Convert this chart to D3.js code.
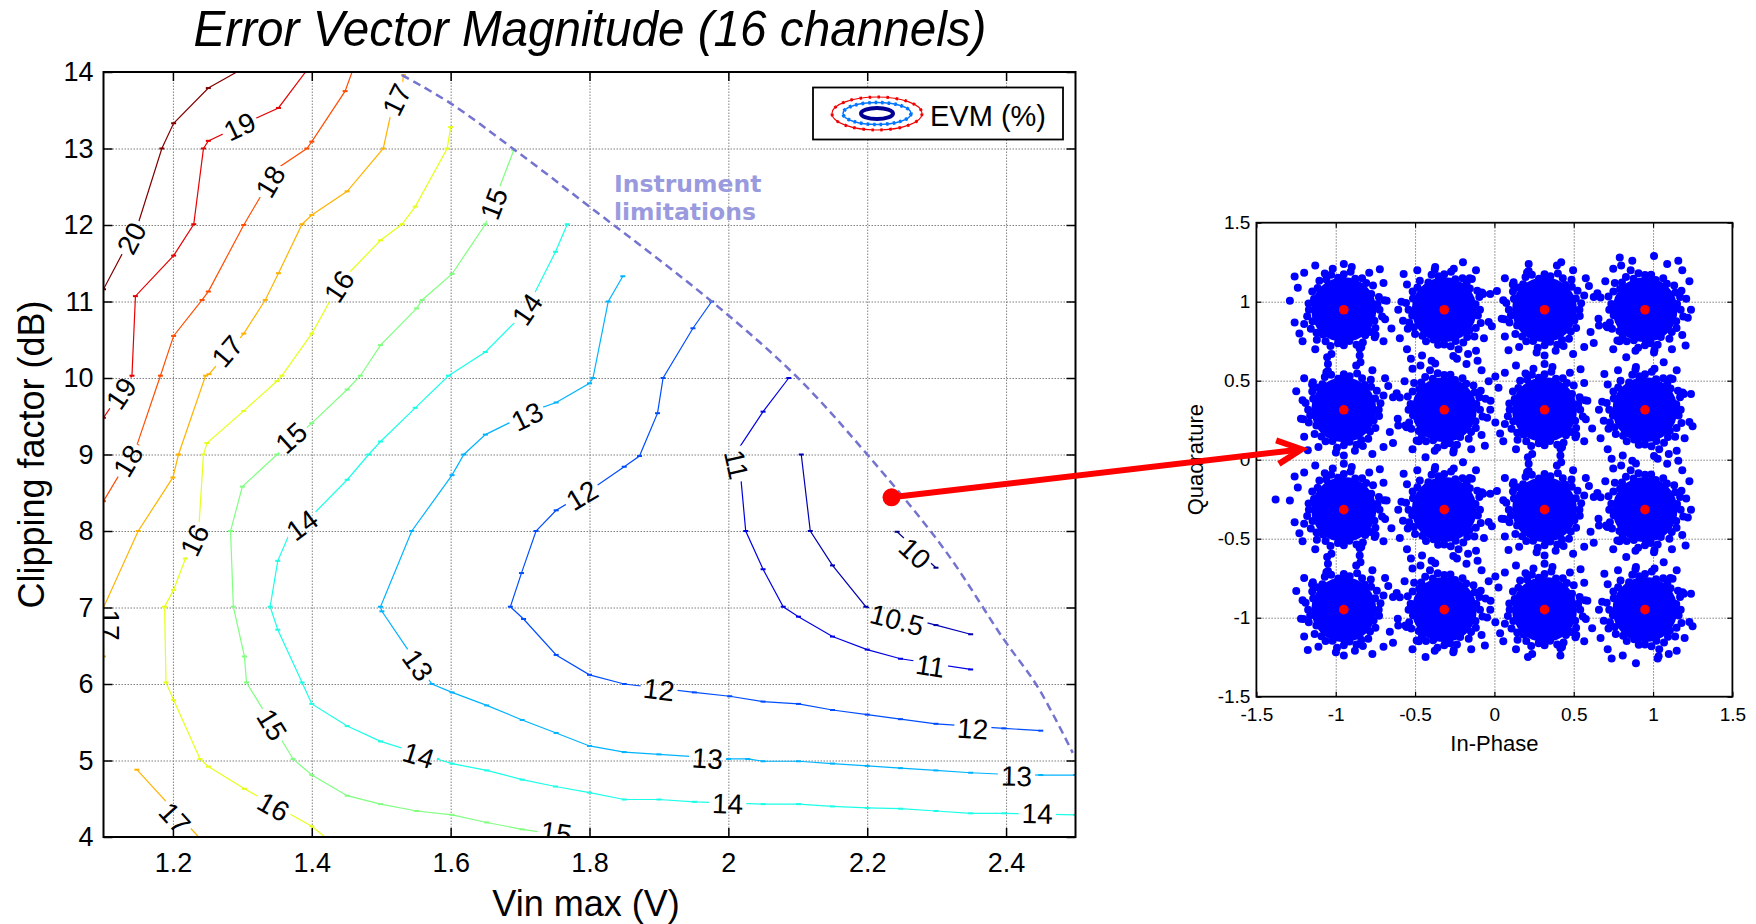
<!DOCTYPE html>
<html><head><meta charset="utf-8">
<script src="https://cdn.jsdelivr.net/npm/d3@7"></script>
<style>
body{margin:0;background:#fff}
svg{display:block}
</style>
</head><body>
<svg id="c" width="1756" height="924" font-family="Liberation Sans, Arial, Helvetica, sans-serif"></svg>
<script>
// ---------------- DATA ----------------
const titleText = "Error Vector Magnitude (16 channels)";
const xTicks = [1.2, 1.4, 1.6, 1.8, 2.0, 2.2, 2.4];
const xTickLabels = ["1.2", "1.4", "1.6", "1.8", "2", "2.2", "2.4"];
const yTicks = [4, 5, 6, 7, 8, 9, 10, 11, 12, 13, 14];
const yTickLabels = ["4", "5", "6", "7", "8", "9", "10", "11", "12", "13", "14"];

// contour polylines [Vin max (V), clipping factor (dB)]
const c20 = [[1.1,11.16],[1.15,12.02],[1.184,13.0],[1.201,13.33],[1.251,13.79],[1.292,14.0]];
const c19 = [[1.1,9.48],[1.141,10.03],[1.146,11.07],[1.201,11.6],[1.23,12.01],[1.244,13.0],[1.251,13.1],[1.316,13.38],[1.352,13.53],[1.391,14.0]];
const c18 = [[1.1,8.39],[1.148,9.12],[1.182,10.03],[1.201,10.55],[1.242,11.02],[1.251,11.13],[1.302,12.0],[1.35,12.74],[1.393,13.0],[1.4,13.09],[1.448,13.75],[1.458,14.0]];
const c17a = [[1.1,6.36],[1.1,7.0],[1.15,8.0],[1.2,8.7],[1.208,9.0],[1.247,10.03],[1.252,10.05],[1.302,10.58],[1.333,11.02],[1.352,11.37],[1.386,12.01],[1.4,12.13],[1.451,12.44],[1.503,13.0],[1.515,13.5],[1.53,13.78],[1.532,13.96]];
const c17b = [[1.148,4.88],[1.237,4.0]];
const c16 = [[1.6,13.28],[1.595,13.0],[1.549,12.24],[1.53,12.01],[1.499,11.8],[1.451,11.35],[1.427,11.02],[1.4,10.58],[1.357,10.03],[1.35,9.96],[1.302,9.57],[1.249,9.15],[1.244,9.0],[1.237,8.0],[1.218,7.64],[1.201,7.23],[1.188,7.01],[1.19,6.02],[1.201,5.79],[1.239,5.02],[1.251,4.92],[1.303,4.63],[1.4,4.14],[1.419,4.0]];
const c15 = [[1.691,12.98],[1.65,12.01],[1.602,11.36],[1.559,11.02],[1.551,10.91],[1.499,10.43],[1.47,10.03],[1.451,9.85],[1.4,9.41],[1.35,9.0],[1.3,8.58],[1.283,8.0],[1.287,7.01],[1.303,6.36],[1.306,6.02],[1.373,5.02],[1.4,4.81],[1.451,4.54],[1.499,4.43],[1.551,4.34],[1.602,4.29],[1.652,4.19],[1.703,4.1],[1.779,4.0]];
const c14 = [[1.768,12.01],[1.751,11.65],[1.717,11.04],[1.696,10.76],[1.65,10.34],[1.597,10.03],[1.549,9.61],[1.499,9.17],[1.482,9.0],[1.451,8.67],[1.4,8.2],[1.369,7.99],[1.351,7.61],[1.34,7.01],[1.351,6.71],[1.386,6.02],[1.4,5.74],[1.451,5.45],[1.499,5.25],[1.58,5.02],[1.602,4.96],[1.652,4.87],[1.703,4.75],[1.751,4.66],[1.8,4.58],[1.85,4.49],[1.9,4.49],[1.951,4.46],[2.05,4.43],[2.101,4.43],[2.15,4.4],[2.2,4.38],[2.248,4.37],[2.299,4.34],[2.349,4.31],[2.397,4.31],[2.5,4.29]];
const c13 = [[1.848,11.33],[1.827,11.0],[1.805,10.0],[1.8,9.93],[1.752,9.68],[1.724,9.59],[1.65,9.26],[1.619,9.0],[1.602,8.73],[1.544,8.0],[1.499,7.01],[1.501,6.95],[1.542,6.4],[1.573,6.0],[1.602,5.89],[1.652,5.72],[1.703,5.53],[1.752,5.36],[1.8,5.19],[1.85,5.11],[1.9,5.08],[2.0,5.02],[2.028,5.02],[2.05,4.99],[2.101,4.99],[2.15,4.96],[2.2,4.93],[2.248,4.9],[2.299,4.87],[2.349,4.84],[2.397,4.82],[2.45,4.81],[2.5,4.81]];
const c12 = [[1.976,11.0],[1.949,10.65],[1.906,10.0],[1.898,9.54],[1.872,8.98],[1.85,8.84],[1.805,8.56],[1.752,8.27],[1.723,8.0],[1.702,7.45],[1.686,7.01],[1.705,6.85],[1.752,6.38],[1.8,6.12],[1.85,6.0],[1.951,5.89],[2.002,5.84],[2.05,5.77],[2.101,5.74],[2.15,5.66],[2.2,5.6],[2.248,5.54],[2.299,5.48],[2.397,5.42],[2.45,5.39]];
const c11 = [[2.087,10.0],[2.05,9.56],[2.01,9.01],[2.018,8.69],[2.025,8.0],[2.05,7.5],[2.079,7.01],[2.101,6.88],[2.15,6.62],[2.2,6.45],[2.248,6.33],[2.349,6.19]];
const c105 = [[2.105,9.0],[2.118,8.0],[2.15,7.55],[2.198,7.01],[2.299,6.77],[2.349,6.65]];
const c10 = [[2.243,7.99],[2.299,7.52]];
const contourLevels = [20, 19, 18, 17, 17, 16, 15, 14, 13, 12, 11, 10.5, 10];
const contourPaths = [c20, c19, c18, c17a, c17b, c16, c15, c14, c13, c12, c11, c105, c10];

// inline contour labels [level, x, y]
const contourLabels = [
  [20,1.14,11.83],[19,1.296,13.29],[19,1.125,9.8],[18,1.135,8.92],[18,1.34,12.57],
  [17,1.11,6.77],[17,1.278,10.35],[17,1.522,13.64],[17,1.203,4.25],
  [16,1.439,11.2],[16,1.231,7.88],[16,1.345,4.4],
  [15,1.662,12.28],[15,1.37,9.22],[15,1.343,5.47],[15,1.752,4.06],
  [14,1.71,10.9],[14,1.386,8.08],[14,1.554,5.07],[14,1.999,4.44],[14,2.445,4.31],
  [13,1.71,9.5],[13,1.553,6.25],[13,1.97,5.03],[13,2.415,4.8],
  [12,1.789,8.47],[12,1.9,5.93],[12,2.352,5.42],
  [11,2.012,8.87],[11,2.291,6.24],[10.5,2.243,6.84],[10,2.269,7.71]
];

// instrument limitation boundary
const limitCurve = [[1.53,13.96],[1.6,13.59],[1.688,13.01],[1.8,12.24],[1.976,11.0],[2.098,10.02],[2.2,9.0],[2.311,7.76],[2.397,6.58],[2.445,5.97],[2.496,5.1]];
const limitText = ["Instrument", "limitations"];
const operatingPoint = [2.235, 8.44];

// constellation (16-QAM)
const cTicks = [-1.5, -1, -0.5, 0, 0.5, 1, 1.5];
const cTickLabels = ["-1.5", "-1", "-0.5", "0", "0.5", "1", "1.5"];
const iqLevels = [-0.949, -0.316, 0.316, 0.949];
const clusterCore = 0.205;
const clusterEdge = [[0.22,0],[0.231,0.041],[0.197,0.072],[0.208,0.12],[0.172,0.145],[0.132,0.157],[0.115,0.199],[0.084,0.23],[0.037,0.212],[0,0.225],[-0.035,0.197],[-0.08,0.221],[-0.12,0.208],[-0.135,0.161],[-0.169,0.141],[-0.199,0.115],[-0.193,0.07],[-0.241,0.043],[-0.225,0],[-0.212,-0.037],[-0.221,-0.08],[-0.173,-0.1],[-0.184,-0.154],[-0.141,-0.169],[-0.115,-0.199],[-0.072,-0.197],[-0.043,-0.241],[0,-0.225],[0.036,-0.202],[0.08,-0.221],[0.11,-0.191],[0.154,-0.184],[0.165,-0.138],[0.199,-0.115],[0.188,-0.068],[0.222,-0.039],[0.25,0.09],[-0.1,0.245],[-0.255,-0.06],[0.12,-0.23],[0.17,0.19],[-0.2,0.16]];
const clusterOutliers = [[-0.30,0.118],[-0.10,0.29],[0.078,0.28],[0.105,0.30],[0.18,0.25],[0.28,0.15],[0.31,0.08],[0.34,-0.057],[0.29,-0.14],[0.31,-0.21],[0.25,-0.235],[0.18,-0.28],[-0.27,-0.057],[-0.25,-0.17],[-0.227,-0.256],[-0.16,-0.235],[-0.26,0.06],[-0.195,0.174],[-0.11,0.237],[0.0,-0.29],[0.07,-0.26],[-0.05,-0.27],[0.26,0.2],[-0.25,0.2]];
const strayPoints = [[-1.379,-0.252],[0.79,1.28],[1.035,-1.244]];
const arrowTarget = [-1.215, 0.066];

// ---------------- DRAWING ----------------
const W = 1756, H = 924;
const svg = d3.select("#c");
const defs = svg.append("defs");

const mx = d3.scaleLinear().domain([1.1, 2.5]).range([103.5, 1075.5]);
const my = d3.scaleLinear().domain([4, 14]).range([837, 72]);
const jet = d3.scaleLinear().domain([10, 11.25, 13.75, 16.25, 18.75, 20])
  .range(["#000080", "#0000ff", "#00ffff", "#ffff00", "#ff0000", "#800000"]);

const PL = mx.range()[0], PR = mx.range()[1], PT = my.range()[1], PB = my.range()[0];

defs.append("clipPath").attr("id", "plotClip").append("rect")
  .attr("x", PL).attr("y", PT).attr("width", PR - PL).attr("height", PB - PT);

// title
svg.append("text").attr("x", 590).attr("y", 46).attr("text-anchor", "middle")
  .attr("font-size", 50).attr("font-style", "italic")
  .attr("textLength", 793).attr("lengthAdjust", "spacingAndGlyphs").text(titleText);

// grid
const gridStyle = g => g.call(s => s.select(".domain").remove())
  .call(s => s.selectAll("line").attr("stroke", "#808080").attr("stroke-width", 1).attr("stroke-dasharray", "1.5,1.5"))
  .call(s => s.selectAll("text").remove());
svg.append("g").attr("transform", `translate(0,${PB})`)
  .call(d3.axisBottom(mx).tickValues(xTicks).tickSize(-(PB - PT))).call(gridStyle);
svg.append("g").attr("transform", `translate(${PL},0)`)
  .call(d3.axisLeft(my).tickValues(yTicks.slice(1, -1)).tickSize(-(PR - PL))).call(gridStyle);

// contour lines (with gaps under labels)
const mask = defs.append("mask").attr("id", "labelMask").attr("maskUnits", "userSpaceOnUse")
  .attr("x", 0).attr("y", 0).attr("width", W).attr("height", H);
mask.append("rect").attr("width", W).attr("height", H).attr("fill", "#fff");

const lineGen = d3.line().x(d => mx(d[0])).y(d => my(d[1]));
const cg = svg.append("g").attr("clip-path", "url(#plotClip)");
const linesG = cg.append("g").attr("mask", "url(#labelMask)");
contourPaths.forEach((pts, i) => {
  const col = jet(contourLevels[i]);
  linesG.append("path").attr("d", lineGen(pts)).attr("fill", "none")
    .attr("stroke", col).attr("stroke-width", 1.2);
  linesG.selectAll(null).data(pts).enter().append("rect")
    .attr("x", d => mx(d[0]) - 2.5).attr("y", d => my(d[1]) - 1)
    .attr("width", 5).attr("height", 2).attr("fill", col);
});

function labelAngle(level, lx, ly) {
  const px = mx(lx), py = my(ly);
  let best = Infinity, ang = 0;
  contourPaths.forEach((pts, i) => {
    if (contourLevels[i] !== level) return;
    for (let k = 0; k < pts.length - 1; k++) {
      const x1 = mx(pts[k][0]), y1 = my(pts[k][1]), x2 = mx(pts[k+1][0]), y2 = my(pts[k+1][1]);
      const dx = x2 - x1, dy = y2 - y1, L2 = dx*dx + dy*dy;
      let t = L2 ? ((px - x1)*dx + (py - y1)*dy) / L2 : 0;
      t = Math.max(0, Math.min(1, t));
      const ex = x1 + t*dx - px, ey = y1 + t*dy - py, dist = ex*ex + ey*ey;
      if (dist < best) { best = dist; ang = Math.atan2(dy, dx) * 180 / Math.PI; }
    }
  });
  if (ang > 90) ang -= 180;
  if (ang <= -90) ang += 180;
  return ang;
}

const labG = cg.append("g");
contourLabels.forEach(([lev, lx, ly]) => {
  const a = labelAngle(lev, lx, ly);
  const px = mx(lx), py = my(ly);
  const t = labG.append("text").attr("transform", `translate(${px},${py}) rotate(${a})`)
    .attr("text-anchor", "middle").attr("dy", "0.36em").attr("font-size", 28)
    .attr("fill", "#000").text(String(lev));
  const w = t.node().getComputedTextLength();
  mask.append("rect").attr("transform", `translate(${px},${py}) rotate(${a})`)
    .attr("x", -w/2 - 3).attr("y", -11).attr("width", w + 6).attr("height", 22).attr("fill", "#000");
});

// instrument limitation
svg.append("path").attr("d", d3.line().curve(d3.curveCatmullRom).x(d => mx(d[0])).y(d => my(d[1]))(limitCurve))
  .attr("fill", "none").attr("stroke", "#7474d0").attr("stroke-width", 2.5).attr("stroke-dasharray", "8,5");
limitText.forEach((s, i) => {
  svg.append("text").attr("x", 614).attr("y", 192 + i * 28)
    .style("font-family", "'DejaVu Sans', Verdana, sans-serif")
    .attr("font-weight", "bold").attr("font-size", 23.5).attr("fill", "#9a9ade").text(s);
});

// box + ticks of main axes
const tickStyle = g => g.call(s => s.select(".domain").remove())
  .call(s => s.selectAll("line").attr("stroke", "#000").attr("stroke-width", 1.5));
svg.append("g").attr("transform", `translate(0,${PB})`)
  .call(d3.axisBottom(mx).tickValues(xTicks).tickFormat((d, i) => xTickLabels[i]).tickSizeInner(-9).tickSizeOuter(0).tickPadding(16))
  .call(tickStyle).call(g => g.selectAll("text").attr("font-size", 27).attr("fill", "#000"));
svg.append("g").attr("transform", `translate(${PL},0)`)
  .call(d3.axisLeft(my).tickValues(yTicks).tickFormat((d, i) => yTickLabels[i]).tickSizeInner(-9).tickSizeOuter(0).tickPadding(10))
  .call(tickStyle).call(g => g.selectAll("text").attr("font-size", 27).attr("fill", "#000"));
svg.append("g").attr("transform", `translate(0,${PT})`)
  .call(d3.axisTop(mx).tickValues(xTicks).tickFormat("").tickSizeInner(-9).tickSizeOuter(0)).call(tickStyle);
svg.append("g").attr("transform", `translate(${PR},0)`)
  .call(d3.axisRight(my).tickValues(yTicks).tickFormat("").tickSizeInner(-9).tickSizeOuter(0)).call(tickStyle);
svg.selectAll("g").attr("font-family", null);
svg.append("rect").attr("x", PL).attr("y", PT).attr("width", PR - PL).attr("height", PB - PT)
  .attr("fill", "none").attr("stroke", "#000").attr("stroke-width", 2);

svg.append("text").attr("x", 586).attr("y", 916).attr("text-anchor", "middle").attr("font-size", 36).text("Vin max (V)");
svg.append("text").attr("transform", `translate(44,${(PT + PB) / 2}) rotate(-90)`).attr("text-anchor", "middle")
  .attr("font-size", 36).text("Clipping factor (dB)");

// legend
const lg = svg.append("g");
lg.append("rect").attr("x", 813).attr("y", 87.5).attr("width", 250).attr("height", 52)
  .attr("fill", "#fff").attr("stroke", "#000").attr("stroke-width", 1.8);
const icx = 877, icy = 113.5;
lg.append("ellipse").attr("cx", icx).attr("cy", icy).attr("rx", 45).attr("ry", 16.5)
  .attr("fill", "none").attr("stroke", jet(18.9)).attr("stroke-width", 1.2);
lg.append("ellipse").attr("cx", icx).attr("cy", icy).attr("rx", 45).attr("ry", 16.5)
  .attr("fill", "none").attr("stroke", jet(18.9)).attr("stroke-width", 3).attr("stroke-dasharray", "2.5,6.5");
lg.append("ellipse").attr("cx", icx).attr("cy", icy).attr("rx", 34).attr("ry", 11)
  .attr("fill", "none").attr("stroke", jet(12.4)).attr("stroke-width", 1.5);
lg.append("ellipse").attr("cx", icx).attr("cy", icy).attr("rx", 34).attr("ry", 11)
  .attr("fill", "none").attr("stroke", jet(12.4)).attr("stroke-width", 3.5).attr("stroke-dasharray", "2.5,4");
lg.append("ellipse").attr("cx", icx).attr("cy", icy).attr("rx", 16).attr("ry", 5.5)
  .attr("fill", "none").attr("stroke", jet(10.2)).attr("stroke-width", 4);
lg.append("text").attr("x", 930).attr("y", 126).attr("font-size", 29).text("EVM (%)");

// ---------------- constellation ----------------
const cx = d3.scaleLinear().domain([-1.5, 1.5]).range([1256.4, 1732.4]);
const cy = d3.scaleLinear().domain([-1.5, 1.5]).range([696.7, 222.7]);
const CL = cx.range()[0], CR = cx.range()[1], CT = cy.range()[1], CB = cy.range()[0];

svg.append("g").attr("transform", `translate(0,${CB})`)
  .call(d3.axisBottom(cx).tickValues(cTicks.slice(1, -1)).tickSize(-(CB - CT))).call(gridStyle);
svg.append("g").attr("transform", `translate(${CL},0)`)
  .call(d3.axisLeft(cy).tickValues(cTicks.slice(1, -1)).tickSize(-(CR - CL))).call(gridStyle);

const sg = svg.append("g");
const unitPx = cx(1) - cx(0);
iqLevels.forEach((I, a) => iqLevels.forEach((Q, b) => {
  const k = (a + 2 * b) % 4;
  const rot = ([dx, dy]) => k === 0 ? [dx, dy] : k === 1 ? [-dy, dx] : k === 2 ? [-dx, -dy] : [dy, -dx];
  sg.append("circle").attr("cx", cx(I)).attr("cy", cy(Q)).attr("r", clusterCore * unitPx).attr("fill", "#0000ff");
  clusterEdge.concat(clusterOutliers).forEach(o => {
    const [dx, dy] = rot(o);
    sg.append("circle").attr("cx", cx(I + dx)).attr("cy", cy(Q + dy)).attr("r", 4).attr("fill", "#0000ff");
  });
}));
sg.selectAll(null).data(strayPoints).enter().append("circle")
  .attr("cx", d => cx(d[0])).attr("cy", d => cy(d[1])).attr("r", 4).attr("fill", "#0000ff");
iqLevels.forEach(I => iqLevels.forEach(Q => {
  sg.append("circle").attr("cx", cx(I)).attr("cy", cy(Q)).attr("r", 4.8).attr("fill", "#ff0000");
}));

const ctick = g => g.call(s => s.select(".domain").remove())
  .call(s => s.selectAll("line").attr("stroke", "#000").attr("stroke-width", 1.2));
svg.append("g").attr("transform", `translate(0,${CB})`)
  .call(d3.axisBottom(cx).tickValues(cTicks).tickFormat((d, i) => cTickLabels[i]).tickSizeInner(-5).tickSizeOuter(0).tickPadding(11))
  .call(ctick).call(g => g.selectAll("text").attr("font-size", 19).attr("fill", "#000"));
svg.append("g").attr("transform", `translate(${CL},0)`)
  .call(d3.axisLeft(cy).tickValues(cTicks).tickFormat((d, i) => cTickLabels[i]).tickSizeInner(-5).tickSizeOuter(0).tickPadding(6))
  .call(ctick).call(g => g.selectAll("text").attr("font-size", 19).attr("fill", "#000"));
svg.append("g").attr("transform", `translate(0,${CT})`)
  .call(d3.axisTop(cx).tickValues(cTicks).tickFormat("").tickSizeInner(-5).tickSizeOuter(0)).call(ctick);
svg.append("g").attr("transform", `translate(${CR},0)`)
  .call(d3.axisRight(cy).tickValues(cTicks).tickFormat("").tickSizeInner(-5).tickSizeOuter(0)).call(ctick);
svg.selectAll("g").attr("font-family", null);
svg.append("rect").attr("x", CL).attr("y", CT).attr("width", CR - CL).attr("height", CB - CT)
  .attr("fill", "none").attr("stroke", "#000").attr("stroke-width", 1.8);
svg.append("text").attr("x", (CL + CR) / 2).attr("y", 751).attr("text-anchor", "middle").attr("font-size", 22).text("In-Phase");
svg.append("text").attr("transform", `translate(1203,${(CT + CB) / 2}) rotate(-90)`).attr("text-anchor", "middle")
  .attr("font-size", 22).text("Quadrature");

// ---------------- arrow ----------------
const x0 = mx(operatingPoint[0]), y0 = my(operatingPoint[1]);
const x1 = cx(arrowTarget[0]), y1 = cy(arrowTarget[1]);
svg.append("circle").attr("cx", x0).attr("cy", y0).attr("r", 9).attr("fill", "#ff0000");
svg.append("line").attr("x1", x0).attr("y1", y0).attr("x2", x1 - 3).attr("y2", y1 + 0.4)
  .attr("stroke", "#ff0000").attr("stroke-width", 6);
const ang = Math.atan2(y1 - y0, x1 - x0), head = 27, spread = 26 * Math.PI / 180;
const h1 = [x1 - head * Math.cos(ang - spread), y1 - head * Math.sin(ang - spread)];
const h2 = [x1 - head * Math.cos(ang + spread), y1 - head * Math.sin(ang + spread)];
svg.append("path").attr("d", `M${h1[0]},${h1[1]}L${x1},${y1}L${h2[0]},${h2[1]}`)
  .attr("fill", "none").attr("stroke", "#ff0000").attr("stroke-width", 6).attr("stroke-linejoin", "miter");
</script>
</body></html>
